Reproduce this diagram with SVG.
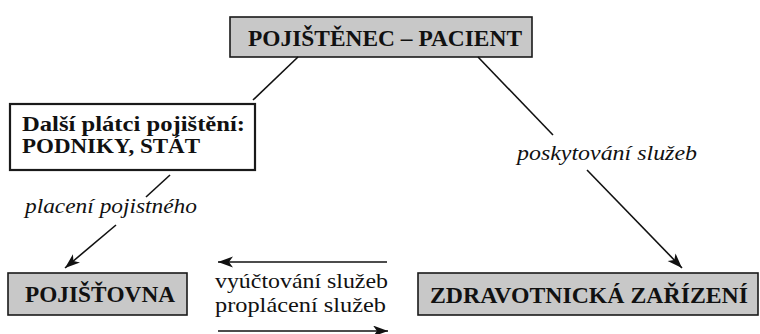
<svg xmlns="http://www.w3.org/2000/svg" width="760" height="334" viewBox="0 0 760 334">
  <style>
    .box { fill: #c8c8c8; stroke: #1a1a1a; stroke-width: 1.6; }
    .wbox { fill: #ffffff; stroke: #1a1a1a; stroke-width: 2.2; }
    .bold { font-family: "Liberation Serif", "Times New Roman", serif; font-weight: bold; fill: #111; }
    .reg { font-family: "Liberation Serif", "Times New Roman", serif; fill: #111; }
    .ital { font-family: "Liberation Serif", "Times New Roman", serif; font-style: italic; fill: #111; }
    .line { stroke: #111; stroke-width: 1.6; fill: none; }
  </style>
  <defs>
    <marker id="arrow" markerUnits="userSpaceOnUse" markerWidth="16" markerHeight="12" refX="15" refY="5.5" orient="auto">
      <path d="M0,0 L15,5.5 L0,11 L4,5.5 z" fill="#111"/>
    </marker>
  </defs>
  <rect width="760" height="334" fill="#ffffff"/>

  <g id="node-pojistenec">
    <rect class="box" x="230" y="17" width="302" height="40"/>
    <text class="bold" x="248" y="46" font-size="23" textLength="274" lengthAdjust="spacingAndGlyphs">POJIŠTĚNEC – PACIENT</text>
  </g>

  <g id="node-platci">
    <rect class="wbox" x="10" y="104" width="245" height="66"/>
    <text class="bold" x="22" y="131" font-size="21" textLength="223" lengthAdjust="spacingAndGlyphs">Další plátci pojištění:</text>
    <text class="bold" x="22" y="153" font-size="21" textLength="178" lengthAdjust="spacingAndGlyphs">PODNIKY, STÁT</text>
  </g>

  <g id="node-pojistovna">
    <rect class="box" x="8" y="273" width="179" height="42"/>
    <text class="bold" x="25" y="302" font-size="23" textLength="150" lengthAdjust="spacingAndGlyphs">POJIŠŤOVNA</text>
  </g>

  <g id="node-zarizeni">
    <rect class="box" x="418" y="273" width="340" height="42"/>
    <text class="bold" x="430" y="303" font-size="23" textLength="318" lengthAdjust="spacingAndGlyphs">ZDRAVOTNICKÁ ZAŘÍZENÍ</text>
  </g>

  <g id="connectors">
    <!-- patient to other payers -->
    <line class="line" x1="298" y1="57" x2="253" y2="100"/>
    <!-- other payers to insurer, broken by its label -->
    <line class="line" x1="170" y1="175" x2="146" y2="197"/>
    <line class="line" x1="116" y1="225" x2="65" y2="268" marker-end="url(#arrow)"/>
    <text class="ital" x="25" y="213" font-size="21" textLength="172" lengthAdjust="spacingAndGlyphs">placení pojistného</text>
    <!-- patient to health facilities, broken by its label -->
    <line class="line" x1="478" y1="57" x2="553" y2="135"/>
    <line class="line" x1="587" y1="170" x2="682" y2="268" marker-end="url(#arrow)"/>
    <text class="ital" x="517" y="160" font-size="22" textLength="180" lengthAdjust="spacingAndGlyphs">poskytování služeb</text>
    <!-- billing and reimbursement between facilities and insurer -->
    <line class="line" x1="387" y1="262" x2="218" y2="262" marker-end="url(#arrow)"/>
    <line class="line" x1="218" y1="331" x2="388" y2="331" marker-end="url(#arrow)"/>
    <text class="reg" x="215" y="288" font-size="21" textLength="173" lengthAdjust="spacingAndGlyphs">vyúčtování služeb</text>
    <text class="reg" x="215" y="312" font-size="21" textLength="171" lengthAdjust="spacingAndGlyphs">proplácení služeb</text>
  </g>
</svg>
